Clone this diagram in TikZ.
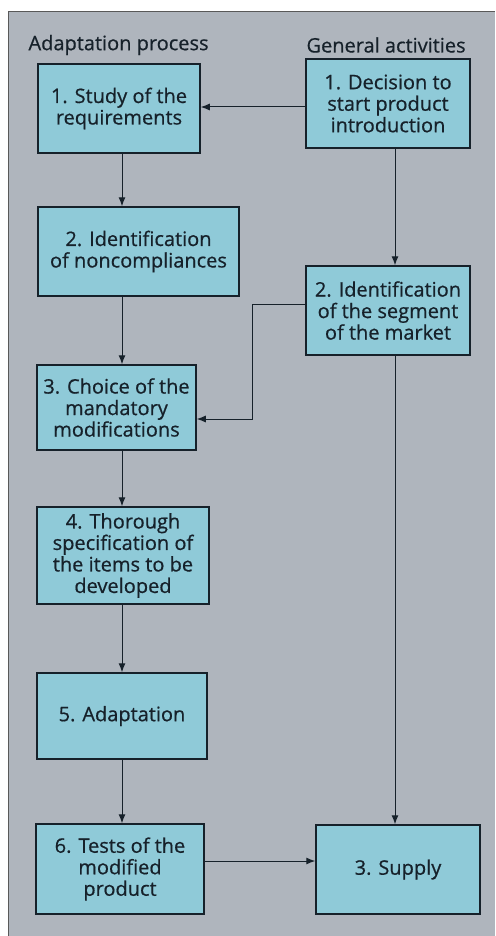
\documentclass[tikz,border=0pt]{standalone}
\usepackage{fontspec}
\setmainfont{Open Sans}[BoldFont=Open Sans,BoldFeatures={FakeBold=0.6}]
\usetikzlibrary{arrows.meta}
\definecolor{panelgray}{HTML}{AFB5BD}
\definecolor{boxcyan}{HTML}{8FCAD8}
\definecolor{inkdark}{HTML}{16212A}
\begin{document}
\begin{tikzpicture}[x=1pt,y=-1pt,
  stagebox/.style={draw=inkdark,line width=1.5pt,fill=boxcyan,align=center,
    text=inkdark,font=\fontsize{20}{21.5}\selectfont\bfseries,inner sep=0pt},
  flow/.style={draw=inkdark,line width=1pt,-{Latex[length=9pt,width=7pt]}},
  heading/.style={text=inkdark,font=\fontsize{20}{22}\selectfont\bfseries,anchor=west}]
\useasboundingbox (0,0) rectangle (495,936);
\fill[white] (0,0) rectangle (495,936);
\fill[panelgray] (8,11) rectangle (495,936);
\draw[gray!70!black,line width=0.6pt] (8,936) -- (8,11) -- (495,11);
% column headings
\node[heading] (hl) at (25,45) {Adaptation process};
\node[heading] (hr) at (303,45) {General activities};
% adaptation column
\node[stagebox,minimum width=162pt,minimum height=89pt] (s1) at (119,108.5) {1. Study of the\\requirements};
\node[stagebox,minimum width=201pt,minimum height=89pt] (s2) at (138.5,251.5) {2. Identification\\of noncompliances};
\node[stagebox,minimum width=159pt,minimum height=85pt] (s3) at (116.5,407.5) {3. Choice of the\\mandatory\\modifications};
\node[stagebox,minimum width=172pt,minimum height=97pt] (s4) at (123,555.5) {4. Thorough\\specification of\\the items to be\\developed};
\node[stagebox,minimum width=170pt,minimum height=86pt] (s5) at (122,716) {5. Adaptation};
\node[stagebox,minimum width=168pt,minimum height=90pt] (s6) at (120,869) {6. Tests of the\\modified\\product};
% general column
\node[stagebox,minimum width=164pt,minimum height=89pt] (g1) at (388,103.5) {1. Decision to\\start product\\introduction};
\node[stagebox,minimum width=164pt,minimum height=89pt] (g2) at (388,310.5) {2. Identification\\of the segment\\of the market};
\node[stagebox,minimum width=164pt,minimum height=89pt] (g3) at (398,869.5) {3. Supply};
% connectors
\draw[flow] (g1.west |- 0,107) -- (s1.east |- 0,107);
\draw[flow] (s1.south -| 122,0) -- (s2.north -| 122,0);
\draw[flow] (s2.south -| 122,0) -- (s3.north -| 122,0);
\draw[flow] (s3.south -| 122,0) -- (s4.north -| 122,0);
\draw[flow] (s4.south -| 122,0) -- (s5.north -| 122,0);
\draw[flow] (s5.south -| 122,0) -- (s6.north -| 122,0);
\draw[flow] (g1.south -| 395,0) -- (g2.north -| 395,0);
\draw[flow] (g2.south -| 395,0) -- (g3.north -| 395,0);
\draw[flow] (g2.west |- 0,304) -- (252,304) -- (252,419) -- (s3.east |- 0,419);
\draw[flow] (s6.east |- 0,861) -- (g3.west |- 0,861);
\end{tikzpicture}
\end{document}
